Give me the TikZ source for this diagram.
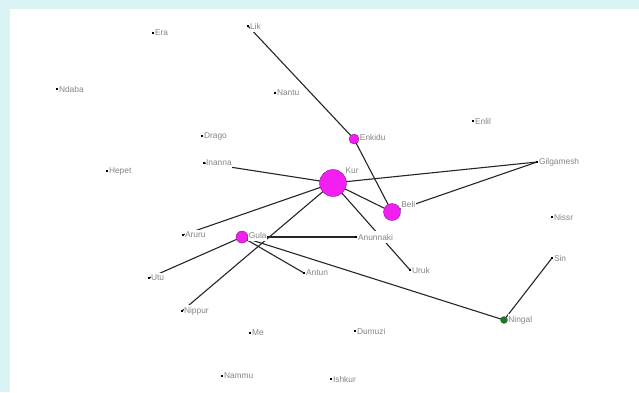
\documentclass[tikz,border=0pt]{standalone}
\usepackage{fontspec}
\setmainfont{Liberation Sans}
\pgfdeclarelayer{bglayer}
\pgfdeclarelayer{edgelayer}
\pgfsetlayers{bglayer,edgelayer,main}
\definecolor{bgcyan}{HTML}{DAF4F6}
\definecolor{labgray}{HTML}{858585}
\definecolor{edgec}{HTML}{262626}
\definecolor{hubfill}{HTML}{F21EF2}
\definecolor{hubline}{HTML}{8A1A8A}
\definecolor{greenfill}{HTML}{1E7A1E}
\tikzset{
  x=1pt, y=-1pt,
  lab/.style={fill=white, inner xsep=0.5pt, inner ysep=2.5pt, text=labgray, font=\fontsize{8.4}{9}\selectfont},
  dotnode/.style={rectangle, fill=black, inner sep=0pt, minimum size=2.2pt, label distance=1.2pt},
  hub/.style={circle, fill=hubfill, draw=hubline, line width=0.4pt, inner sep=0pt, label distance=1pt},
  greennode/.style={circle, fill=greenfill, draw=black!70, line width=0.3pt, inner sep=0pt, minimum size=7pt, label distance=1pt},
  edge/.style={draw=edgec, line width=1.1pt},
}
\begin{document}
\begin{tikzpicture}
\useasboundingbox (0,0) rectangle (639,392);
\begin{pgfonlayer}{bglayer}
\fill[bgcyan] (0,0) rectangle (639,392);
\fill[white] (10,9) rectangle (639,392);
\end{pgfonlayer}

\node[dotnode, label={[lab]right:Era}] (era) at (153,33) {};
\node[dotnode, label={[lab]right:Lik}] (lik) at (248,26) {};
\node[dotnode, label={[lab]right:Ndaba}] (ndaba) at (57,89) {};
\node[dotnode, label={[lab]right:Nantu}] (nantu) at (275,93) {};
\node[dotnode, label={[lab]right:Enlil}] (enlil) at (473,121) {};
\node[dotnode, label={[lab]right:Drago}] (drago) at (202,136) {};
\node[dotnode, label={[lab]right:Inanna}] (inanna) at (204,163) {};
\node[dotnode, label={[lab]right:Hepet}] (hepet) at (107,171) {};
\node[dotnode, label={[lab]right:Gilgamesh}] (gilgamesh) at (537,162) {};
\node[dotnode, label={[lab]right:Nissr}] (nissr) at (552,217) {};
\node[dotnode, label={[lab]right:Aruru}] (aruru) at (183,235) {};
\node[dotnode, label={[lab]right:Anunnaki}] (anunnaki) at (356,237) {};
\node[dotnode, label={[lab]right:Uruk}] (uruk) at (410,270) {};
\node[dotnode, label={[lab]right:Antun}] (antun) at (304,273) {};
\node[dotnode, label={[lab]right:Utu}] (utu) at (149,278) {};
\node[dotnode, label={[lab]right:Sin}] (sin) at (552,258) {};
\node[dotnode, label={[lab]right:Nippur}] (nippur) at (182,311) {};
\node[dotnode, label={[lab]right:Dumuzi}] (dumuzi) at (355,331) {};
\node[dotnode, label={[lab]right:Me}] (me) at (250,333) {};
\node[dotnode, label={[lab]right:Nammu}] (nammu) at (222,376) {};
\node[dotnode, label={[lab]right:Ishkur}] (ishkur) at (331,379) {};

\node[hub, minimum size=27pt, label={[lab]30:Kur}] (kur) at (333,183) {};
\node[hub, minimum size=17pt, label={[lab]10:Beli}] (beli) at (392,212) {};
\node[hub, minimum size=10pt, label={[lab,yshift=1.5pt]right:Enkidu}] (enkidu) at (354,139) {};
\node[hub, minimum size=12pt, label={[lab,yshift=2pt]right:Gula}] (gula) at (242,237) {};
\node[greennode, label={[lab]right:Ningal}] (ningal) at (504,320) {};

\begin{pgfonlayer}{edgelayer}
\draw[edge] (lik.center) -- (enkidu.center);
\draw[edge] (enkidu.center) -- (beli.center);
\draw[edge] (inanna.center) -- (kur.center);
\draw[edge] (kur.center) -- (gilgamesh.center);
\draw[edge] (beli.center) -- (gilgamesh.center);
\draw[edge] (kur.center) -- (beli.center);
\draw[edge] (kur.center) -- (uruk.center);
\draw[edge] (kur.center) -- (aruru.center);
\draw[edge] (kur.center) -- (nippur.center);
\draw[edge] (gula.center) -- (anunnaki.center);
\draw[edge] (gula.center) -- (antun.center);
\draw[edge] (gula.center) -- (utu.center);
\draw[edge] (gula.center) -- (ningal.center);
\draw[edge] (ningal.center) -- (sin.center);
\end{pgfonlayer}
\end{tikzpicture}
\end{document}
